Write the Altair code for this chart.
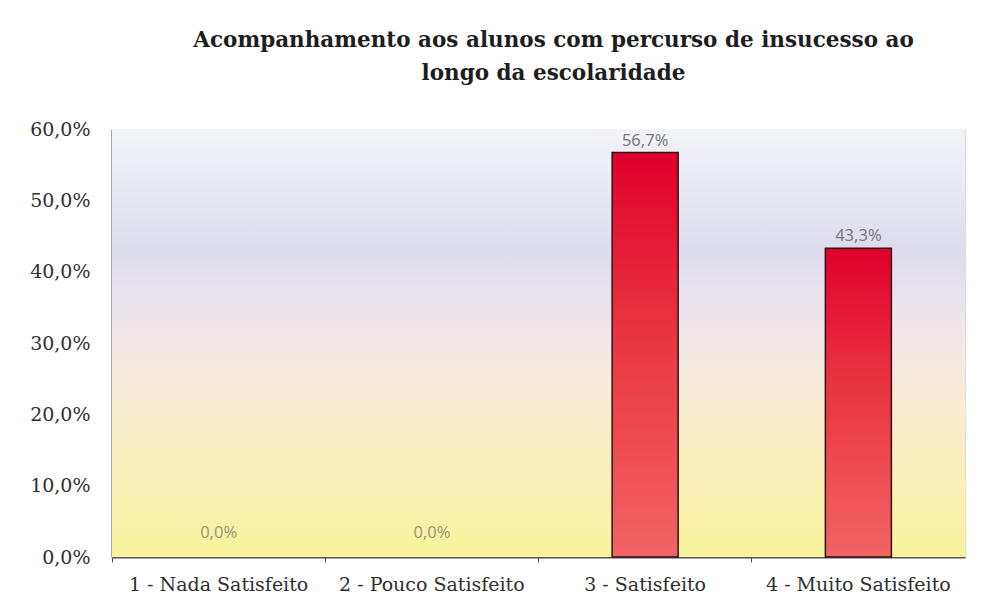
import altair as alt
import pandas as pd

categories = ["1 - Nada Satisfeito", "2 - Pouco Satisfeito", "3 - Satisfeito", "4 - Muito Satisfeito"]
values = [0.0, 0.0, 56.7, 43.3]
y_ticks = [0, 10, 20, 30, 40, 50, 60]
title_lines = ["Acompanhamento aos alunos com percurso de insucesso ao", "longo da escolaridade"]

W, H = 853, 428

df = pd.DataFrame({"cat": categories, "val": values})

xenc = alt.X("cat:N", sort=categories, title=None,
             scale=alt.Scale(paddingInner=0, paddingOuter=0),
             axis=alt.Axis(labelAngle=0, labelFont="DejaVu Serif", labelFontSize=19,
                           labelColor="#2f2f2f", bandPosition=0, tickSize=5, tickColor="#555",
                           domainColor="#555", domainWidth=2, labelPadding=13,
                           labelLimit=400, labelOverlap=False))
yenc = alt.Y("val:Q", title=None,
             scale=alt.Scale(domain=[0, 60], nice=False),
             axis=alt.Axis(values=y_ticks, labelFont="DejaVu Serif", labelFontSize=19,
                           labelColor="#2f2f2f", tickSize=0, labelPadding=22,
                           domainColor="#555", domainWidth=2,
                           grid=True, gridColor="#ffffff", gridOpacity=0.7, gridWidth=1.5,
                           labelExpr="replace(format(datum.value, '.1f'), '.', ',') + '%'"))

bg = alt.Chart(pd.DataFrame({"a": [0]})).mark_rect(
    fill=alt.Gradient(gradient="linear", x1=0, y1=0, x2=0, y2=1, stops=[
        alt.GradientStop(color="#f3f4f9", offset=0),
        alt.GradientStop(color="#dddcec", offset=0.28),
        alt.GradientStop(color="#efe6ec", offset=0.45),
        alt.GradientStop(color="#f9ecd6", offset=0.62),
        alt.GradientStop(color="#fbf0b4", offset=0.85),
        alt.GradientStop(color="#f8f39c", offset=1),
    ])
).encode(x=alt.value(0), x2=alt.value(W), y=alt.value(0), y2=alt.value(H))

base = alt.Chart(df)

bars = base.transform_filter("datum.val > 0").mark_bar(
    size=66, stroke="#2e1414", strokeWidth=1.5,
    color=alt.Gradient(gradient="linear", x1=0, y1=0, x2=0, y2=1, stops=[
        alt.GradientStop(color="#e0002c", offset=0),
        alt.GradientStop(color="#e8303f", offset=0.4),
        alt.GradientStop(color="#f26464", offset=1),
    ])
).encode(x=xenc, y=yenc)

label_expr = "replace(format(datum.val, '.1f'), '.', ',') + '%'"

labels = base.transform_filter("datum.val > 0").transform_calculate(lbl=label_expr).mark_text(
    baseline="bottom", dy=-4, font="Noto Sans", fontSize=16.5, color="#7a7a7a"
).encode(x=alt.X("cat:N", sort=categories), y=alt.Y("val:Q"), text="lbl:N")

zero_labels = base.transform_filter("datum.val == 0").transform_calculate(lbl=label_expr).mark_text(
    baseline="bottom", dy=-16, font="Noto Sans", fontSize=16.5, color="#9a9a7a"
).encode(x=alt.X("cat:N", sort=categories), y=alt.Y("val:Q"), text="lbl:N")

chart = alt.layer(bg, bars, labels, zero_labels).properties(
    width=W, height=H,
    title=alt.TitleParams(text=title_lines, font="DejaVu Serif", fontSize=21.5, fontWeight="bold",
                          color="#1e1e1e", anchor="middle", dx=15, offset=36, lineHeight=33),
    autosize=alt.AutoSizeParams(type="none"),
    padding={"left": 104, "top": 121, "right": 8, "bottom": 36},
).configure_view(stroke="#555", strokeWidth=2).configure(background="#ffffff")

chart.save("out.html", embed_options={"renderer": "svg", "actions": False})
